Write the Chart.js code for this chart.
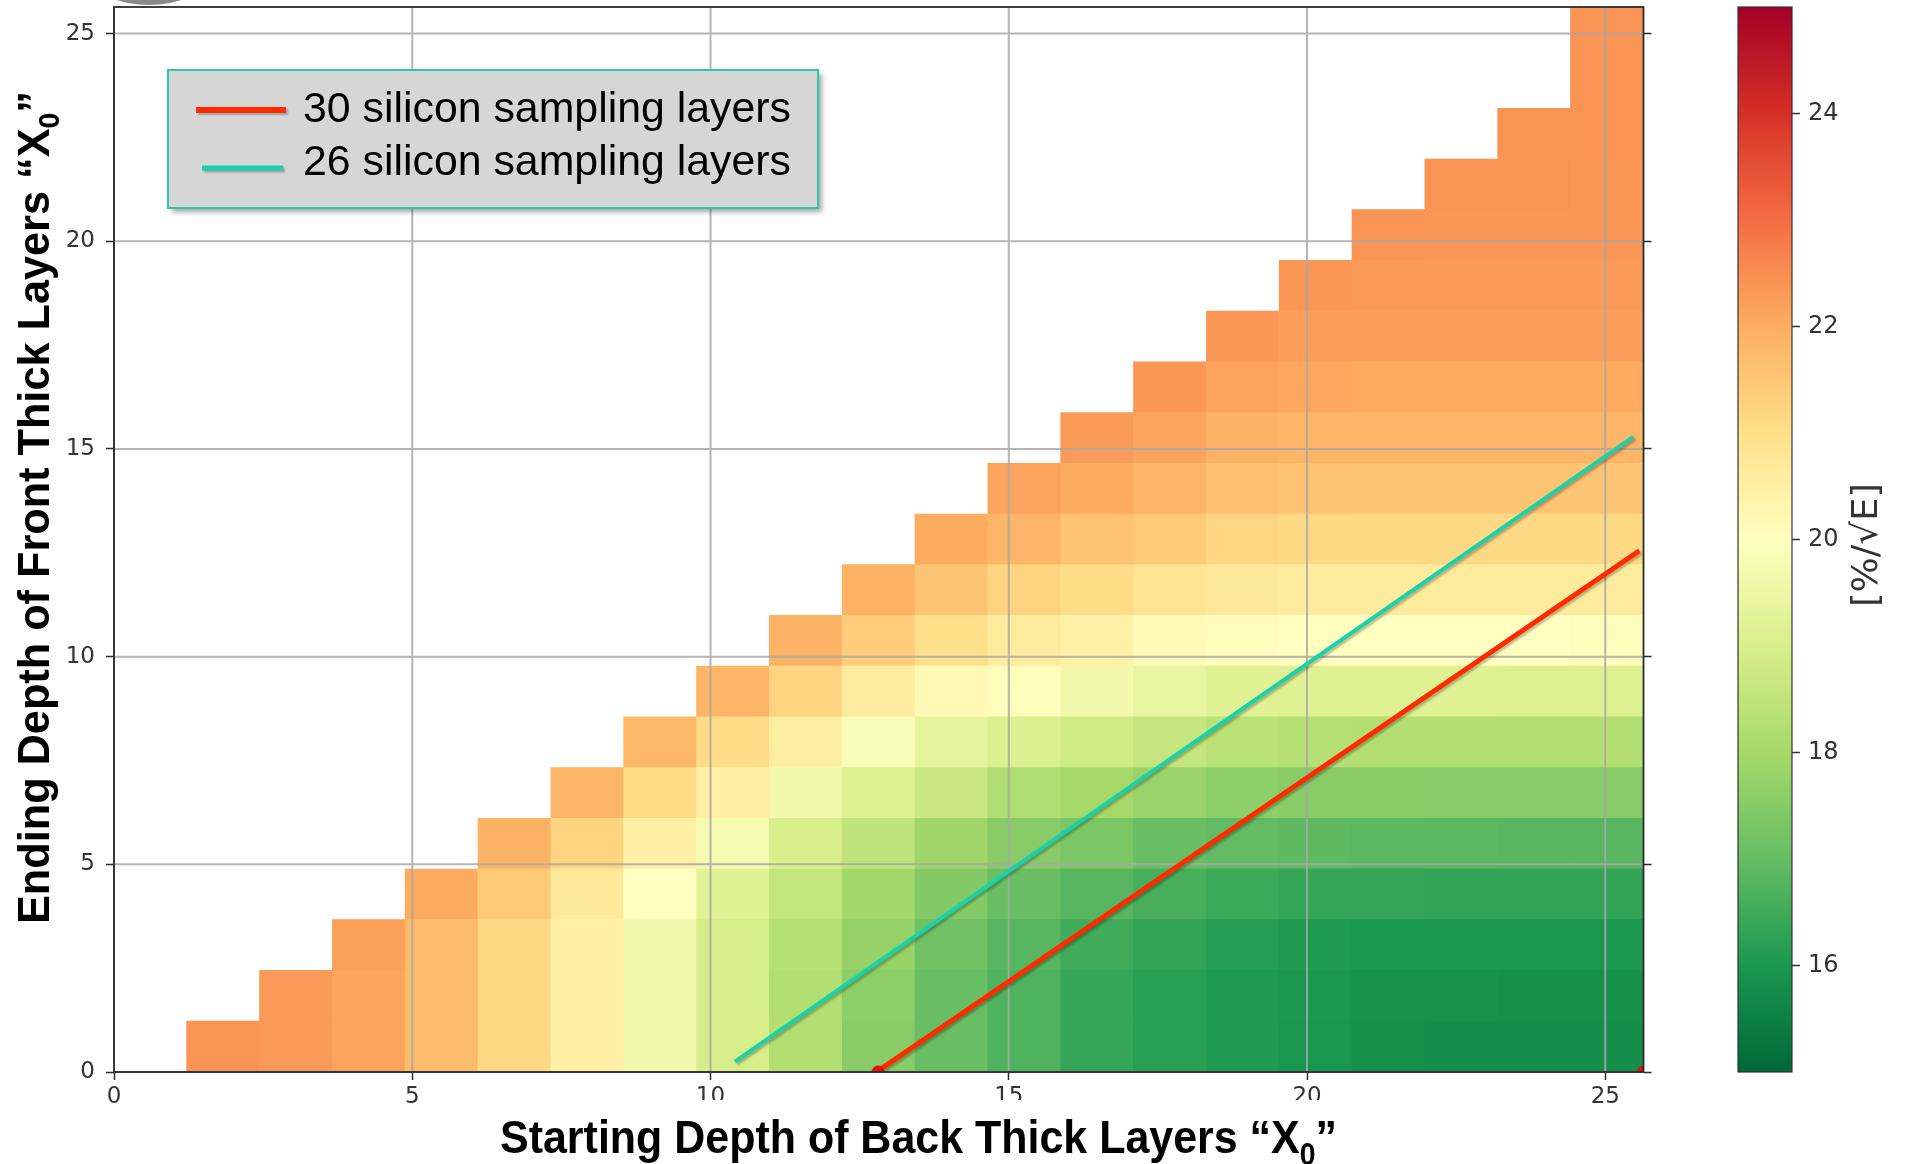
<!DOCTYPE html>
<html>
<head>
<meta charset="utf-8">
<title>Stochastic term vs. thick-layer depths</title>
<script src="https://cdn.jsdelivr.net/npm/chart.js@4.4.1/dist/chart.umd.min.js"></script>
<style>
  html, body { margin: 0; padding: 0; background: #ffffff; }
  #wrap { position: relative; width: 1906px; height: 1164px; overflow: hidden; background: #ffffff; }
  #main { position: absolute; left: 0; top: 0; }
  #cbar { position: absolute; left: 1700px; top: 0; }
</style>
</head>
<body>
<div id="wrap">
  <canvas id="main" width="1906" height="1164"></canvas>
  <canvas id="cbar" width="206" height="1164"></canvas>
</div>
<script>
// ---- data -------------------------------------------------------------
// depth bin edges in X0 (same binning on both axes)
const binEdges = [0, 1.221, 2.442, 3.663, 4.884, 6.105, 7.326, 8.547, 9.768, 10.989,
  12.21, 13.431, 14.652, 15.873, 17.094, 18.315, 19.536, 20.757, 21.978, 23.199, 24.42, 25.641];

// stochastic term [%/sqrt(E)] for each back-start bin, listed from the lowest front-end bin upward
const col01 = [22.4];
const col02 = [22.3, 22.3];
const col03 = [22.15, 22.15, 22.2];
const col04 = [21.75, 21.75, 21.75, 22.05];
const col05 = [21.15, 21.15, 21.15, 21.45, 21.9];
const col06 = [20.5, 20.5, 20.5, 20.7, 21.25, 21.85];
const col07 = [19.65, 19.65, 19.65, 20.0, 20.5, 21.1, 21.8];
const col08 = [18.95, 18.95, 18.95, 19.2, 19.7, 20.5, 21.1, 21.85];
const col09 = [18.25, 18.25, 18.3, 18.55, 19.0, 19.65, 20.55, 21.25, 21.9];
const col10 = [17.55, 17.6, 17.75, 17.95, 18.5, 19.1, 19.9, 20.65, 21.4, 21.95];
const col11 = [17.05, 17.05, 17.15, 17.45, 17.9, 18.7, 19.35, 20.2, 21.0, 21.55, 22.05];
const col12 = [16.7, 16.7, 16.8, 17.05, 17.55, 18.2, 19.05, 19.95, 20.65, 21.25, 21.85, 22.15];
const col13 = [16.35, 16.35, 16.5, 16.8, 17.35, 18.0, 18.8, 19.65, 20.45, 21.05, 21.6, 22.05, 22.3];
const col14 = [16.2, 16.2, 16.3, 16.6, 17.05, 17.8, 18.6, 19.4, 20.15, 20.85, 21.45, 21.85, 22.15, 22.35];
const col15 = [16.05, 16.05, 16.15, 16.45, 16.95, 17.6, 18.35, 19.2, 20.05, 20.7, 21.2, 21.65, 21.9, 22.15, 22.35];
const col16 = [15.95, 16.0, 16.05, 16.35, 16.9, 17.55, 18.3, 19.15, 20.0, 20.65, 21.15, 21.6, 21.85, 22.1, 22.25, 22.35];
const col17 = [15.85, 15.9, 16.0, 16.35, 16.85, 17.55, 18.25, 19.15, 20.0, 20.65, 21.15, 21.55, 21.85, 22.05, 22.25, 22.3, 22.4];
const col18 = [15.8, 15.9, 16.0, 16.3, 16.85, 17.5, 18.25, 19.15, 20.0, 20.65, 21.15, 21.55, 21.85, 22.05, 22.25, 22.3, 22.35, 22.4];
const col19 = [15.8, 15.85, 15.95, 16.3, 16.8, 17.5, 18.25, 19.1, 20.0, 20.65, 21.15, 21.55, 21.85, 22.05, 22.25, 22.3, 22.35, 22.4, 22.4];
const col20 = [15.8, 15.85, 15.95, 16.3, 16.8, 17.5, 18.25, 19.1, 19.95, 20.65, 21.15, 21.55, 21.85, 22.05, 22.25, 22.3, 22.35, 22.35, 22.4, 22.4, 22.4];
const columns = [col01, col02, col03, col04, col05, col06, col07, col08, col09, col10,
  col11, col12, col13, col14, col15, col16, col17, col18, col19, col20];

// constant silicon-layer-count lines
const line30x = [12.78, 25.57];
const line30y = [0.0, 12.55];
const line26x = [10.41, 25.47];
const line26y = [0.25, 15.29];
const line30Label = '30 silicon sampling layers';
const line26Label = '26 silicon sampling layers';
const markerX = [12.81, 25.64];
const markerY = [0, 0];

const axisTicks = [0, 5, 10, 15, 20, 25];
const axisMax = 25.641;
const colorRange = [15, 25];
const colorTicks = [16, 18, 20, 22, 24];
const colorLabel = '[%/\u221AE]';
const xTitle = ['Starting Depth of Back Thick Layers \u201CX', '0', '\u201D'];
const yTitle = ['Ending Depth of Front Thick Layers \u201CX', '0', '\u201D'];

// ---- colour map (RdYlGn, reversed) -----------------------------------
const RDYLGN_R = ['#006837', '#1a9850', '#66bd63', '#a6d96a', '#d9ef8b', '#ffffbf',
  '#fee08b', '#fdae61', '#f46d43', '#d73027', '#a50026'];
const STOPS = RDYLGN_R.map(h => [parseInt(h.slice(1, 3), 16), parseInt(h.slice(3, 5), 16), parseInt(h.slice(5, 7), 16)]);
function colourFor(v) {
  const t = Math.min(1, Math.max(0, (v - colorRange[0]) / (colorRange[1] - colorRange[0])));
  const p = t * (STOPS.length - 1);
  const i = Math.min(STOPS.length - 2, Math.floor(p));
  const f = p - i;
  const a = STOPS[i], b = STOPS[i + 1];
  return 'rgb(' + [0, 1, 2].map(c => Math.round(a[c] + (b[c] - a[c]) * f)).join(',') + ')';
}

// ---- styles -------------------------------------------------------------
const TICK_FONT = { family: '"DejaVu Sans", sans-serif', size: 23 };
const CB_FONT = { family: '"DejaVu Sans", sans-serif', size: 24 };
const GRID_COLOUR = 'rgba(168,168,168,0.85)';
const AXIS_COLOUR = '#2b2b2b';
const RED = '#ff2a00';
const TEAL = '#17d2ab';

// one floating-bar dataset per front-end bin: each bar is one cell
const cellSets = [];
const rowCount = Math.max(...columns.map(c => c.length));
for (let r = 0; r < rowCount; r++) {
  const data = [];
  const colours = [];
  columns.forEach((vals, i) => {
    const k = i + 1;
    if (r < vals.length) {
      data.push({ x: (binEdges[k] + binEdges[k + 1]) / 2, y: [binEdges[r], binEdges[r + 1]] });
      colours.push(colourFor(vals[r]));
    }
  });
  cellSets.push({
    type: 'bar', data, backgroundColor: colours, borderWidth: 0,
    grouped: false, barPercentage: 1, categoryPercentage: 1, inflateAmount: 0.5,
    order: 10, xAxisID: 'x', yAxisID: 'y'
  });
}

const lineSets = [
  { type: 'line', label: line30Label, data: line30x.map((x, i) => ({ x, y: line30y[i] })),
    borderColor: RED, backgroundColor: RED, borderWidth: 5, pointRadius: 0, fill: false, tension: 0,
    order: 2, xAxisID: 'x', yAxisID: 'y' },
  { type: 'line', label: line26Label, data: line26x.map((x, i) => ({ x, y: line26y[i] })),
    borderColor: TEAL, backgroundColor: TEAL, borderWidth: 4, pointRadius: 0, fill: false, tension: 0,
    order: 3, xAxisID: 'x', yAxisID: 'y' },
  { type: 'line', data: markerX.map((x, i) => ({ x, y: markerY[i] })), showLine: false,
    pointRadius: 6.5, pointBackgroundColor: '#e80d05', pointBorderWidth: 0, clip: 0,
    order: 1, xAxisID: 'x', yAxisID: 'y' }
];

// ---- drawing helpers --------------------------------------------------
function drawGrid(chart) {
  const { ctx, chartArea: a, scales } = chart;
  ctx.save();
  ctx.strokeStyle = GRID_COLOUR;
  ctx.lineWidth = 2;
  ctx.beginPath();
  scales.x.ticks.forEach(t => {
    const p = scales.x.getPixelForValue(t.value);
    ctx.moveTo(p, a.top); ctx.lineTo(p, a.bottom);
  });
  scales.y.ticks.forEach(t => {
    const p = scales.y.getPixelForValue(t.value);
    ctx.moveTo(a.left, p); ctx.lineTo(a.right, p);
  });
  ctx.stroke();
  ctx.restore();
}

// draws [main, subscript, tail] text fitted to a given length, baseline at origin
function drawFittedTitle(ctx, parts, size, subSize, subDrop, length) {
  const fMain = 'bold ' + size + 'px "Liberation Sans", Arial, sans-serif';
  const fSub = 'bold ' + subSize + 'px "Liberation Sans", Arial, sans-serif';
  ctx.font = fMain; const w0 = ctx.measureText(parts[0]).width;
  ctx.font = fSub; const w1 = ctx.measureText(parts[1]).width;
  ctx.font = fMain; const w2 = ctx.measureText(parts[2]).width;
  const sx = length / (w0 + w1 + w2);
  ctx.scale(sx, 1);
  ctx.fillStyle = '#000';
  ctx.textBaseline = 'alphabetic';
  ctx.textAlign = 'left';
  ctx.font = fMain; ctx.fillText(parts[0], 0, 0);
  ctx.font = fSub; ctx.fillText(parts[1], w0, subDrop);
  ctx.font = fMain; ctx.fillText(parts[2], w0 + w1, 0);
}

function drawLegend(chart) {
  const ctx = chart.ctx;
  const entries = chart.data.datasets.filter(d => d.label);
  const box = { x: 168, y: 70, w: 650, h: 138 };
  const rows = [
    { lineY: 110, x0: 196, x1: 286, textY: 122 },
    { lineY: 168, x0: 202, x1: 283, textY: 175 }
  ];
  ctx.save();
  ctx.shadowColor = 'rgba(0,0,0,0.35)';
  ctx.shadowOffsetX = 4; ctx.shadowOffsetY = 4; ctx.shadowBlur = 5;
  ctx.fillStyle = '#d6d6d6';
  ctx.fillRect(box.x, box.y, box.w, box.h);
  ctx.restore();
  ctx.save();
  ctx.strokeStyle = '#2ec6a4';
  ctx.lineWidth = 2;
  ctx.strokeRect(box.x, box.y, box.w, box.h);
  ctx.restore();
  entries.forEach((d, i) => {
    const r = rows[i];
    ctx.save();
    ctx.shadowColor = 'rgba(0,0,0,0.25)';
    ctx.shadowOffsetX = 2; ctx.shadowOffsetY = 2; ctx.shadowBlur = 2;
    ctx.strokeStyle = d.borderColor;
    ctx.lineWidth = d.borderWidth + 1;
    ctx.beginPath(); ctx.moveTo(r.x0, r.lineY); ctx.lineTo(r.x1, r.lineY); ctx.stroke();
    ctx.restore();
    ctx.save();
    ctx.font = '42px "Liberation Sans", Arial, sans-serif';
    const w = ctx.measureText(d.label).width;
    ctx.translate(303, r.textY);
    ctx.scale(488 / w, 1);
    ctx.fillStyle = '#000';
    ctx.textBaseline = 'alphabetic';
    ctx.fillText(d.label, 0, 0);
    ctx.restore();
  });
}

const overlay = {
  id: 'overlay',
  beforeDatasetsDraw(chart) { chart.$gridDone = false; },
  beforeDatasetDraw(chart, args) {
    if (args.meta.type !== 'bar' && !chart.$gridDone) { drawGrid(chart); chart.$gridDone = true; }
    const ds = chart.data.datasets[args.index];
    if (args.meta.type === 'line' && ds.showLine !== false) {
      const ctx = chart.ctx;
      ctx.save();
      ctx.shadowColor = 'rgba(0,0,0,0.25)';
      ctx.shadowOffsetX = 2; ctx.shadowOffsetY = 2; ctx.shadowBlur = 2;
      chart.$shadow = true;
    }
  },
  afterDatasetDraw(chart) {
    if (chart.$shadow) { chart.ctx.restore(); chart.$shadow = false; }
  },
  afterDatasetsDraw(chart) {
    if (!chart.$gridDone) { drawGrid(chart); chart.$gridDone = true; }
    const { ctx, chartArea: a } = chart;
    ctx.save();
    ctx.strokeStyle = AXIS_COLOUR;
    ctx.lineWidth = 1.8;
    ctx.strokeRect(a.left, a.top, a.right - a.left, a.bottom - a.top);
    ctx.restore();
  },
  afterDraw(chart) {
    const ctx = chart.ctx;
    // partial grey disc at the top-left edge
    ctx.save();
    ctx.fillStyle = '#8a8a8a';
    ctx.beginPath(); ctx.arc(149, -103, 108, 0, Math.PI * 2); ctx.fill();
    ctx.restore();

    drawLegend(chart);

    // x title on a white band
    ctx.save();
    ctx.fillStyle = '#ffffff';
    ctx.fillRect(490, 1100, 855, 64);
    ctx.translate(500, 1153);
    drawFittedTitle(ctx, xTitle, 47, 31, 12, 837);
    ctx.restore();

    // y title, reading upward
    ctx.save();
    ctx.translate(49, 924);
    ctx.rotate(-Math.PI / 2);
    drawFittedTitle(ctx, yTitle, 44, 29, 10, 833);
    ctx.restore();
  }
};

const fixedTicks = s => { s.ticks = axisTicks.map(v => ({ value: v })); };
const noVerticalOverhang = s => { s.paddingTop = 0; s.paddingBottom = 0; };

new Chart(document.getElementById('main'), {
  type: 'bar',
  data: { datasets: [...cellSets, ...lineSets] },
  options: {
    responsive: false,
    animation: false,
    devicePixelRatio: 1,
    layout: { padding: { left: 0, top: 7, right: 252.5, bottom: 52 } },
    plugins: { legend: { display: false }, tooltip: { enabled: false } },
    scales: {
      x: {
        type: 'linear', position: 'bottom', min: 0, max: axisMax, offset: false,
        afterBuildTicks: fixedTicks,
        ticks: { color: '#333', font: TICK_FONT, padding: 3, maxRotation: 0, autoSkip: false },
        grid: { drawOnChartArea: false, drawTicks: true, tickLength: 8, tickColor: AXIS_COLOUR, tickWidth: 1.5, offset: false },
        border: { display: false },
        afterFit: s => { s.height = 40; s.paddingLeft = 0; s.paddingRight = 0; }
      },
      y: {
        type: 'linear', position: 'left', min: 0, max: axisMax,
        afterBuildTicks: fixedTicks,
        ticks: { color: '#333', font: TICK_FONT, padding: 11 },
        grid: { drawOnChartArea: false, drawTicks: true, tickLength: 8, tickColor: AXIS_COLOUR, tickWidth: 1.5 },
        border: { display: false },
        afterFit: s => { s.width = 114; noVerticalOverhang(s); }
      },
      y2: {
        type: 'linear', position: 'right', min: 0, max: axisMax,
        afterBuildTicks: fixedTicks,
        ticks: { callback: () => '', padding: 0 },
        grid: { drawOnChartArea: false, drawTicks: true, tickLength: 8, tickColor: AXIS_COLOUR, tickWidth: 1.5 },
        border: { display: false },
        afterFit: s => { s.width = 10; noVerticalOverhang(s); }
      }
    }
  },
  plugins: [overlay]
});

// ---- colour bar ----------------------------------------------------------
const cbarDecor = {
  id: 'cbarDecor',
  afterDatasetsDraw(chart) {
    const { ctx, chartArea: a } = chart;
    ctx.save();
    ctx.strokeStyle = '#333';
    ctx.lineWidth = 1.2;
    ctx.strokeRect(a.left, a.top, a.right - a.left, a.bottom - a.top);
    ctx.restore();
  },
  afterDraw(chart) {
    const ctx = chart.ctx;
    ctx.save();
    ctx.font = '35px "DejaVu Sans", sans-serif';
    const w = ctx.measureText(colorLabel).width;
    ctx.translate(177, 607);
    ctx.rotate(-Math.PI / 2);
    ctx.scale(124 / w, 1);
    ctx.fillStyle = '#333';
    ctx.textBaseline = 'alphabetic';
    ctx.fillText(colorLabel, 0, 0);
    ctx.restore();
  }
};

new Chart(document.getElementById('cbar'), {
  type: 'bar',
  data: {
    labels: [''],
    datasets: [{
      data: [colorRange],
      backgroundColor: (c) => {
        const a = c.chart.chartArea;
        if (!a) return '#ffffff';
        const g = c.chart.ctx.createLinearGradient(0, a.bottom, 0, a.top);
        RDYLGN_R.forEach((col, i) => g.addColorStop(i / (RDYLGN_R.length - 1), col));
        return g;
      },
      borderWidth: 0, barPercentage: 1, categoryPercentage: 1, inflateAmount: 0
    }]
  },
  options: {
    responsive: false,
    animation: false,
    devicePixelRatio: 1,
    layout: { padding: { left: 38, top: 7, right: 0, bottom: 92 } },
    plugins: { legend: { display: false }, tooltip: { enabled: false } },
    scales: {
      x: { display: false },
      y: {
        position: 'right', min: colorRange[0], max: colorRange[1],
        afterBuildTicks: s => { s.ticks = colorTicks.map(v => ({ value: v })); },
        ticks: { color: '#333', font: CB_FONT, padding: 8 },
        grid: { drawOnChartArea: false, drawTicks: true, tickLength: 8, tickColor: '#333', tickWidth: 1.5 },
        border: { display: false },
        afterFit: s => { s.width = 114; noVerticalOverhang(s); }
      }
    }
  },
  plugins: [cbarDecor]
});
</script>
</body>
</html>
